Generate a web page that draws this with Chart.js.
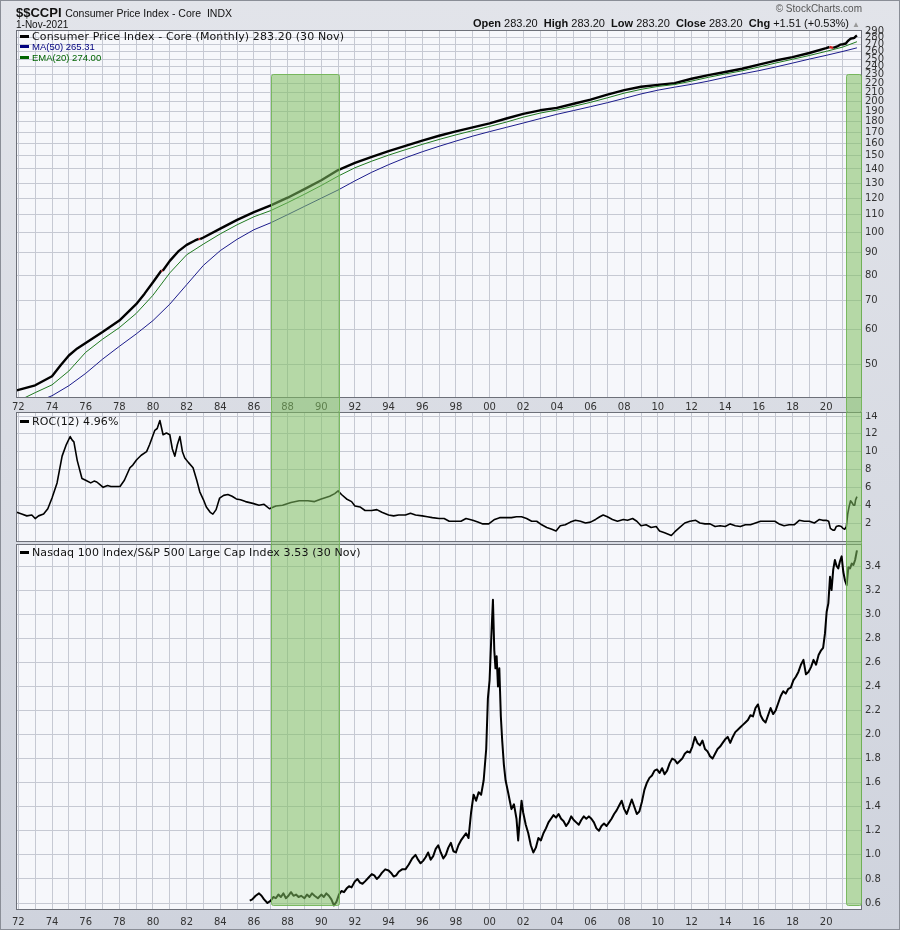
<!DOCTYPE html>
<html>
<head>
<meta charset="utf-8">
<script src="https://cdn.jsdelivr.net/npm/chart.js@4.4.1/dist/chart.umd.min.js"></script>
<style>
  html, body { margin: 0; padding: 0; }
  body {
    width: 900px; height: 930px; position: relative; overflow: hidden;
    background: linear-gradient(#e2e4ea, #cfd3dd);
    font-family: "DejaVu Sans", sans-serif; color: #111;
  }
  #frame { position: absolute; left: 0; top: 0; width: 900px; height: 930px; box-sizing: border-box; border: 1px solid #8a8e97; pointer-events: none; }
  canvas { position: absolute; left: 0; }
  .t { position: absolute; white-space: nowrap; line-height: 1; }
  .lg { font: 11px 'DejaVu Sans'; letter-spacing: 0.12px; }
  .mk { display: inline-block; width: 9px; height: 3px; vertical-align: middle; margin-right: 3px; position: relative; top: -1px; }
</style>
</head>
<body>
<canvas id="cpiChart" width="900" height="412" style="top:0"></canvas>
<canvas id="rocChart" width="900" height="130" style="top:412px"></canvas>
<canvas id="ratioChart" width="900" height="388" style="top:542px"></canvas>

<div class="t" style="left:16px;top:5px;font:bold 13px 'Liberation Sans';">$$CCPI <span style="font:10.5px 'Liberation Sans';">Consumer Price Index - Core&nbsp; INDX</span></div>
<div class="t" style="left:16px;top:19px;font:10px 'Liberation Sans';">1-Nov-2021</div>
<div class="t" style="right:38px;top:3px;font:10px 'Liberation Sans';color:#555;">© StockCharts.com</div>
<div class="t" style="right:40px;top:17px;font:11px 'Liberation Sans';"><b>Open</b> 283.20&nbsp; <b>High</b> 283.20&nbsp; <b>Low</b> 283.20&nbsp; <b>Close</b> 283.20&nbsp; <b>Chg</b> +1.51 (+0.53%) <span style="color:#999;font-size:8px;">▲</span></div>

<div class="t lg" style="left:20px;top:30px;"><span class="mk" style="background:#000"></span>Consumer Price Index - Core (Monthly) 283.20 (30 Nov)</div>
<div class="t" style="left:20px;top:41px;font:9.5px 'Liberation Sans';color:#000080;"><span class="mk" style="background:#000080"></span>MA(50) 265.31</div>
<div class="t" style="left:20px;top:52px;font:9.5px 'Liberation Sans';color:#006400;"><span class="mk" style="background:#006400"></span>EMA(20) 274.00</div>
<div class="t lg" style="left:20px;top:415px;"><span class="mk" style="background:#000"></span>ROC(12) 4.96%</div>
<div class="t lg" style="left:20px;top:546px;"><span class="mk" style="background:#000"></span>Nasdaq 100 Index/S&amp;P 500 Large Cap Index 3.53 (30 Nov)</div>
<div id="frame"></div>

<script>
// --- data (x = decimal year) ---
const cpiDates = [1971.9, 1973, 1974, 1974.5, 1975, 1975.5, 1976, 1977, 1978, 1979, 1979.5, 1980, 1980.5, 1980.58, 1981, 1981.5, 1982, 1982.5,
  1982.72, 1982.8, 1983, 1984, 1985, 1986, 1987, 1988, 1989, 1990, 1991, 1992, 1993, 1994, 1995, 1996, 1997, 1998, 1999, 2000, 2001,
  2002, 2003, 2004, 2005, 2006, 2007, 2008, 2009, 2010, 2011, 2012, 2013, 2014, 2015, 2016, 2017, 2018, 2019, 2020, 2020.2, 2020.42,
  2020.7, 2020.83, 2021, 2021.17, 2021.25, 2021.33, 2021.42, 2021.5, 2021.58, 2021.67, 2021.75, 2021.83];
const cpiValues = [43.5, 44.7, 46.9, 49.6, 52.3, 54.3, 55.9, 59.2, 62.9, 68.6, 72.5, 77.0, 81.9, 81.8, 86.2, 90.6, 93.8, 96.0,
  96.8, 96.7, 97.5, 102.2, 107.0, 111.5, 115.5, 120.3, 125.9, 131.9, 139.2, 144.5, 149.3, 153.9, 158.2, 162.6, 166.8, 170.7, 174.4, 178.1, 182.7,
  187.3, 190.8, 193.2, 197.5, 201.8, 207.2, 212.2, 216.0, 218.2, 220.2, 225.4, 229.8, 233.6, 237.6, 242.8, 248.1, 252.6, 258.2, 265.0, 266.5, 265.2,
  267.8, 269.8, 270.4, 271.5, 273.9, 276.0, 277.8, 278.9, 279.0, 279.6, 281.7, 283.2];

const avgDates = [1971.9, 1973, 1974, 1975, 1976, 1977, 1978, 1979, 1980, 1981, 1982, 1983, 1984, 1985, 1986, 1987, 1988, 1989, 1990,
  1991, 1992, 1993, 1994, 1995, 1996, 1997, 1998, 1999, 2000, 2001, 2002, 2003, 2004, 2005, 2006, 2007, 2008, 2009, 2010, 2011,
  2012, 2013, 2014, 2015, 2016, 2017, 2018, 2019, 2020, 2021, 2021.83];
const ma50Values = [39.4, 40.8, 42.3, 44.6, 47.6, 51.3, 54.9, 58.6, 62.9, 68.6, 76.0, 84.2, 91.0, 96.6, 101.6, 105.4, 110.0, 114.9, 120.0,
  125.3, 131.5, 137.6, 143.2, 148.5, 153.3, 157.8, 162.2, 166.5, 170.5, 174.4, 178.4, 182.6, 186.8, 190.6, 194.5, 198.6, 203.2, 208.0, 212.2, 215.6,
  218.8, 222.6, 227.0, 231.2, 235.2, 239.8, 244.8, 250.0, 255.0, 260.4, 265.31];
const ema20Values = [41.0, 43.0, 44.8, 48.2, 53.2, 57.0, 60.6, 65.3, 71.9, 80.9, 89.0, 94.2, 99.4, 104.3, 108.8, 112.4, 117.2, 122.5, 128.3,
  134.8, 140.9, 145.9, 150.6, 155.0, 159.4, 163.6, 167.6, 171.4, 175.2, 179.3, 184.0, 188.0, 191.1, 194.9, 199.0, 203.8, 208.9, 213.1, 216.4, 218.6,
  222.6, 227.1, 231.1, 235.0, 239.7, 244.9, 249.8, 254.8, 260.4, 266.5, 274.0];

const rocDates = [1971.9, 1972.2, 1972.5, 1972.8, 1973, 1973.2, 1973.5, 1973.75, 1974, 1974.3, 1974.6, 1974.85, 1975.08, 1975.2, 1975.3, 1975.5,
  1975.78, 1976, 1976.3, 1976.5, 1976.66, 1976.85, 1977.04, 1977.3, 1977.5, 1977.8, 1978.04, 1978.3, 1978.63, 1978.8, 1979.03, 1979.3, 1979.62,
  1979.8, 1980.11, 1980.25, 1980.41, 1980.6, 1980.8, 1981, 1981.15, 1981.3, 1981.45, 1981.6, 1981.75, 1981.89, 1982.1, 1982.38, 1982.6, 1982.78,
  1983, 1983.17, 1983.4, 1983.56, 1983.75, 1983.96, 1984.2, 1984.45, 1984.7, 1984.95, 1985.2, 1985.5, 1985.93, 1986.3, 1986.6, 1986.92,
  1987.3, 1987.7, 1988.2, 1988.69, 1989.2, 1989.6, 1990, 1990.5, 1990.8, 1991, 1991.2, 1991.5, 1991.8, 1992, 1992.3, 1992.6, 1993, 1993.3,
  1993.6, 1994, 1994.3, 1994.6, 1995, 1995.3, 1995.6, 1996, 1996.3, 1996.6, 1997, 1997.3, 1997.6, 1998, 1998.3, 1998.6, 1999, 1999.3, 1999.6,
  1999.95, 2000.3, 2000.6, 2001, 2001.3, 2001.6, 2001.9, 2002.2, 2002.5, 2002.8, 2003.1, 2003.4, 2003.7, 2003.95, 2004.2, 2004.5, 2004.8,
  2005.1, 2005.4, 2005.7, 2006, 2006.3, 2006.55, 2006.75, 2007, 2007.3, 2007.6, 2007.95, 2008.2, 2008.5, 2008.75, 2009, 2009.3, 2009.6,
  2009.9, 2010.1, 2010.4, 2010.8, 2011, 2011.3, 2011.6, 2011.9, 2012.25, 2012.5, 2012.8, 2013.1, 2013.4, 2013.7, 2014, 2014.3, 2014.6,
  2014.9, 2015.2, 2015.5, 2015.8, 2016.1, 2016.4, 2016.7, 2016.95, 2017.2, 2017.5, 2017.8, 2018.1, 2018.4, 2018.7, 2019, 2019.3, 2019.6,
  2019.8, 2020, 2020.15, 2020.25, 2020.4, 2020.5, 2020.6, 2020.75, 2020.9, 2021, 2021.1, 2021.2, 2021.28, 2021.36, 2021.45, 2021.53,
  2021.62, 2021.7, 2021.75, 2021.83];
const rocValues = [3.2, 3.0, 2.8, 2.9, 2.5, 2.8, 3.0, 3.6, 4.8, 6.5, 9.5, 10.8, 11.7, 11.3, 11.1, 9.0,
  7.0, 6.8, 6.5, 6.7, 6.6, 6.3, 6.0, 6.2, 6.1, 6.1, 6.1, 6.8, 8.2, 8.5, 9.1, 9.6, 10.0,
  10.8, 12.4, 12.6, 13.5, 11.9, 12.1, 11.9, 10.3, 9.5, 10.8, 11.7, 10.0, 9.3, 8.8, 8.2, 6.8, 5.5,
  4.6, 3.8, 3.2, 3.0, 3.5, 4.8, 5.1, 5.2, 5.0, 4.7, 4.6, 4.4, 4.2, 4.0, 4.1, 3.6,
  3.9, 4.0, 4.3, 4.5, 4.5, 4.4, 4.7, 5.0, 5.3, 5.6, 5.2, 4.7, 4.4, 3.9, 3.8, 3.4, 3.4, 3.5,
  3.2, 2.9, 2.8, 2.9, 2.9, 3.1, 2.9, 2.8, 2.7, 2.6, 2.5, 2.5, 2.2, 2.2, 2.2, 2.5, 2.3, 2.1, 1.9,
  1.9, 2.4, 2.6, 2.6, 2.6, 2.7, 2.7, 2.5, 2.2, 2.2, 1.8, 1.5, 1.3, 1.1, 1.7, 1.8, 2.1,
  2.3, 2.2, 2.0, 2.1, 2.4, 2.7, 2.9, 2.7, 2.4, 2.2, 2.4, 2.3, 2.5, 2.2, 1.7, 1.8, 1.5,
  1.6, 1.1, 0.9, 0.6, 1.0, 1.5, 2.0, 2.2, 2.3, 2.0, 1.9, 1.9, 1.6, 1.7, 1.6, 1.9, 1.7,
  1.6, 1.8, 1.8, 2.0, 2.2, 2.2, 2.2, 2.2, 1.9, 1.7, 1.8, 1.8, 2.3, 2.2, 2.2, 2.0, 2.4,
  2.3, 2.3, 2.2, 1.4, 1.2, 1.2, 1.6, 1.7, 1.6, 1.4, 1.3, 1.6, 3.0, 3.8, 4.5, 4.3,
  4.0, 4.0, 4.6, 4.96];

const ratioDates = [1985.75, 1985.9, 1986.1, 1986.3, 1986.45, 1986.6, 1986.8, 1987, 1987.15, 1987.3, 1987.45, 1987.6, 1987.75, 1987.9,
  1988.05, 1988.2, 1988.35, 1988.5, 1988.65, 1988.8, 1989, 1989.15, 1989.3, 1989.45, 1989.6, 1989.8, 1990, 1990.15, 1990.3, 1990.45,
  1990.6, 1990.75, 1990.9, 1991.05, 1991.2, 1991.35, 1991.5, 1991.65, 1991.8, 1992, 1992.15, 1992.3, 1992.45, 1992.6, 1992.8, 1993,
  1993.15, 1993.3, 1993.45, 1993.6, 1993.8, 1994, 1994.15, 1994.3, 1994.45, 1994.6, 1994.8, 1995, 1995.2, 1995.4, 1995.6, 1995.75,
  1995.9, 1996.05, 1996.2, 1996.35, 1996.5, 1996.65, 1996.8, 1996.95, 1997.1, 1997.25, 1997.4, 1997.55, 1997.7, 1997.85, 1998,
  1998.15, 1998.3, 1998.45, 1998.6, 1998.75, 1998.9, 1999.05, 1999.2, 1999.35, 1999.5, 1999.65, 1999.8, 1999.9, 2000, 2000.1,
  2000.2, 2000.28, 2000.35, 2000.42, 2000.5, 2000.58, 2000.67, 2000.75, 2000.85, 2000.95, 2001.1, 2001.2, 2001.3, 2001.45, 2001.6,
  2001.7, 2001.8, 2001.9, 2002, 2002.15, 2002.3, 2002.45, 2002.6, 2002.75, 2002.9, 2003.05, 2003.2, 2003.35, 2003.5, 2003.65,
  2003.8, 2003.95, 2004.1, 2004.25, 2004.4, 2004.55, 2004.7, 2004.85, 2005, 2005.15, 2005.3, 2005.45, 2005.6, 2005.75, 2005.9,
  2006.05, 2006.2, 2006.35, 2006.5, 2006.65, 2006.8, 2006.95, 2007.1, 2007.25, 2007.4, 2007.55, 2007.7, 2007.85, 2008, 2008.15,
  2008.3, 2008.45, 2008.6, 2008.75, 2008.9, 2009.05, 2009.2, 2009.35, 2009.5, 2009.65, 2009.8, 2009.95, 2010.1, 2010.25, 2010.4,
  2010.55, 2010.7, 2010.85, 2011, 2011.15, 2011.3, 2011.45, 2011.6, 2011.75, 2011.9, 2012.05, 2012.2, 2012.35, 2012.5, 2012.65,
  2012.8, 2012.95, 2013.1, 2013.25, 2013.4, 2013.55, 2013.7, 2013.85, 2014, 2014.15, 2014.3, 2014.45, 2014.6, 2014.75, 2014.9,
  2015.05, 2015.2, 2015.35, 2015.5, 2015.65, 2015.8, 2015.95, 2016.1, 2016.25, 2016.4, 2016.55, 2016.7, 2016.85, 2017, 2017.15,
  2017.3, 2017.45, 2017.6, 2017.75, 2017.9, 2018.05, 2018.2, 2018.35, 2018.5, 2018.65, 2018.8, 2018.95, 2019.1, 2019.25, 2019.4,
  2019.55, 2019.7, 2019.82, 2019.93, 2020.03, 2020.13, 2020.23, 2020.32, 2020.42, 2020.52, 2020.62, 2020.72, 2020.82, 2020.92,
  2021.02, 2021.12, 2021.22, 2021.32, 2021.42, 2021.52, 2021.62, 2021.72, 2021.83];
const ratioValues = [0.62, 0.63, 0.66, 0.68, 0.66, 0.63, 0.60, 0.62, 0.65, 0.64, 0.67, 0.65, 0.68, 0.64,
  0.66, 0.69, 0.66, 0.67, 0.65, 0.66, 0.64, 0.67, 0.65, 0.68, 0.66, 0.64, 0.67, 0.65, 0.68, 0.66,
  0.63, 0.58, 0.61, 0.67, 0.70, 0.69, 0.72, 0.74, 0.73, 0.78, 0.80, 0.77, 0.76, 0.78, 0.81, 0.84,
  0.83, 0.80, 0.82, 0.85, 0.88, 0.87, 0.85, 0.82, 0.83, 0.86, 0.88, 0.88, 0.92, 0.97, 1.00, 0.96,
  0.93, 0.95, 0.98, 1.02, 0.96, 0.99, 1.05, 1.08, 1.02, 0.97, 1.00, 1.06, 1.10, 1.03, 1.02,
  1.08, 1.12, 1.15, 1.18, 1.14, 1.35, 1.50, 1.45, 1.52, 1.50, 1.62, 1.88, 2.30, 2.45, 2.80,
  3.12, 2.70, 2.55, 2.65, 2.40, 2.55, 2.15, 1.95, 1.75, 1.62, 1.52, 1.45, 1.38, 1.42, 1.30,
  1.12, 1.30, 1.45, 1.35, 1.25, 1.18, 1.08, 1.02, 1.06, 1.14, 1.12, 1.18, 1.22, 1.27, 1.30,
  1.33, 1.31, 1.34, 1.30, 1.28, 1.24, 1.27, 1.32, 1.29, 1.27, 1.25, 1.29, 1.32, 1.30, 1.32,
  1.30, 1.27, 1.22, 1.20, 1.24, 1.26, 1.24, 1.27, 1.30, 1.34, 1.37, 1.41, 1.45, 1.38, 1.34,
  1.40, 1.46, 1.40, 1.34, 1.36, 1.44, 1.54, 1.60, 1.64, 1.66, 1.70, 1.71, 1.68, 1.72, 1.67,
  1.70, 1.76, 1.80, 1.79, 1.76, 1.78, 1.80, 1.84, 1.86, 1.85, 1.90, 1.98, 1.93, 1.91, 1.95,
  1.88, 1.86, 1.82, 1.80, 1.84, 1.88, 1.90, 1.93, 1.96, 1.98, 1.93, 1.98, 2.02, 2.04, 2.06,
  2.08, 2.10, 2.12, 2.16, 2.15, 2.22, 2.25, 2.16, 2.12, 2.10, 2.16, 2.22, 2.17, 2.20, 2.26,
  2.32, 2.36, 2.34, 2.38, 2.39, 2.45, 2.48, 2.52, 2.58, 2.62, 2.50, 2.52, 2.56, 2.62, 2.58,
  2.66, 2.70, 2.72, 2.84, 3.02, 3.09, 3.31, 3.20, 3.37, 3.45, 3.40, 3.38, 3.44, 3.48,
  3.35, 3.28, 3.24, 3.39, 3.38, 3.42, 3.41, 3.45, 3.53];

const cpiTicks = [50, 60, 70, 80, 90, 100, 110, 120, 130, 140, 150, 160, 170, 180, 190, 200, 210, 220, 230, 240, 250, 260, 270, 280, 290];
const rocTicks = [2, 4, 6, 8, 10, 12, 14];
const ratioTicks = [0.6, 0.8, 1.0, 1.2, 1.4, 1.6, 1.8, 2.0, 2.2, 2.4, 2.6, 2.8, 3.0, 3.2, 3.4];
const yearTicks = Array.from({ length: 50 }, (_, i) => 1972 + i);
const bands = [[1987.03, 1991.07], [2021.16, 2022.07]];

const pts = (xs, ys) => xs.map((x, i) => ({ x, y: ys[i] }));

const gridColor = '#c6c9d3';
const labelFont = { family: 'DejaVu Sans', size: 10 };

// plot background, frame, zero line and the green highlight bands
const panelPlugin = {
  id: 'panel',
  beforeDraw(chart) {
    const { ctx, chartArea: a } = chart;
    ctx.save();
    ctx.fillStyle = '#f6f7fb';
    ctx.fillRect(a.left, a.top, a.right - a.left, a.bottom - a.top);
    ctx.restore();
  },
  afterDraw(chart, args, opts) {
    const { ctx, chartArea: a } = chart;
    const x = chart.scales.x;
    ctx.save();
    if (opts.zeroLine) {
      const y0 = Math.round(chart.scales.y.getPixelForValue(0)) + 0.5;
      ctx.strokeStyle = '#777';
      ctx.setLineDash([6, 2, 1, 2]);
      ctx.beginPath();
      ctx.moveTo(a.left, y0);
      ctx.lineTo(a.right, y0);
      ctx.stroke();
      ctx.setLineDash([]);
    }
    ctx.strokeStyle = '#6d7079';
    ctx.lineWidth = 1;
    ctx.strokeRect(a.left + 0.5, a.top + 0.5, a.right - a.left - 1, a.bottom - a.top - 1);
    for (const b of bands) {
      const x0 = Math.round(x.getPixelForValue(b[0]));
      const x1 = Math.round(x.getPixelForValue(b[1]));
      ctx.fillStyle = 'rgba(128,192,97,0.55)';
      ctx.strokeStyle = 'rgba(112,180,84,0.9)';
      ctx.beginPath();
      ctx.roundRect(x0 + 0.5, opts.bandTop + 0.5, x1 - x0, opts.bandBottom - opts.bandTop, 2);
      ctx.fill();
      ctx.stroke();
    }
    ctx.restore();
  }
};

// fixed axis boxes, no automatic label padding
const fixBox = (w, h) => (s) => {
  if (w !== null) s.width = w;
  if (h !== null) s.height = h;
  s.paddingTop = 0; s.paddingBottom = 0; s.paddingLeft = 0; s.paddingRight = 0;
};

function xScale(showLabels, height, pad) {
  return {
    type: 'linear', min: 1971.86, max: 2022.13,
    grid: { color: gridColor, drawTicks: false },
    border: { display: false },
    afterBuildTicks: (s) => { s.ticks = yearTicks.map((v) => ({ value: v })); },
    afterFit: fixBox(null, height),
    ticks: {
      display: showLabels, padding: pad, autoSkip: false, maxRotation: 0,
      color: '#333', font: labelFont,
      callback: (v) => (v % 2 === 0 ? String(v).slice(-2) : '')
    }
  };
}

function yScale(extra, tickList, fmt) {
  return Object.assign({
    position: 'right',
    grid: { color: gridColor, drawTicks: false },
    border: { display: false },
    afterBuildTicks: (s) => { s.ticks = tickList.map((v) => ({ value: v })); },
    afterFit: fixBox(38, null),
    ticks: { padding: 3, autoSkip: false, color: '#333', font: labelFont, callback: fmt }
  }, extra);
}

const common = {
  responsive: false,
  animation: false,
  devicePixelRatio: 1,
  events: [],
  elements: { point: { radius: 0 }, line: { tension: 0, borderJoinStyle: 'round' } },
};

// down months of the index are drawn red
const downRed = { borderColor: (c) => (c.p1.parsed.y < c.p0.parsed.y ? '#d02020' : undefined) };

new Chart(document.getElementById('cpiChart'), {
  type: 'line',
  data: {
    datasets: [
      { data: pts(avgDates, ma50Values), borderColor: '#1c1c8c', borderWidth: 1 },
      { data: pts(avgDates, ema20Values), borderColor: '#1f7a1f', borderWidth: 1 },
      { data: pts(cpiDates, cpiValues), borderColor: '#000', borderWidth: 2.4, segment: downRed }
    ]
  },
  options: Object.assign({}, common, {
    layout: { padding: { left: 16, top: 30, right: 0, bottom: 0 } },
    plugins: { legend: { display: false }, tooltip: { enabled: false }, panel: { bandTop: 74, bandBottom: 412 } },
    scales: {
      x: xScale(true, 14, 3),
      y: yScale({ type: 'logarithmic', min: 41.8, max: 291.5 }, cpiTicks, (v) => String(v))
    }
  }),
  plugins: [panelPlugin]
});

new Chart(document.getElementById('rocChart'), {
  type: 'line',
  data: { datasets: [{ data: pts(rocDates, rocValues), borderColor: '#000', borderWidth: 1.6 }] },
  options: Object.assign({}, common, {
    layout: { padding: { left: 16, top: 0, right: 0, bottom: 0 } },
    plugins: { legend: { display: false }, tooltip: { enabled: false }, panel: { bandTop: -2, bandBottom: 132, zeroLine: true } },
    scales: {
      x: xScale(false, 0, 0),
      y: yScale({ type: 'linear', min: -0.13, max: 14.45 }, rocTicks, (v) => String(v))
    }
  }),
  plugins: [panelPlugin]
});

new Chart(document.getElementById('ratioChart'), {
  type: 'line',
  data: { datasets: [{ data: pts(ratioDates, ratioValues), borderColor: '#000', borderWidth: 2 }] },
  options: Object.assign({}, common, {
    layout: { padding: { left: 16, top: 2, right: 0, bottom: 0 } },
    plugins: { legend: { display: false }, tooltip: { enabled: false }, panel: { bandTop: -2, bandBottom: 363 } },
    scales: {
      x: xScale(true, 20, 6),
      y: yScale({ type: 'linear', min: 0.542, max: 3.583 }, ratioTicks, (v) => v.toFixed(1))
    }
  }),
  plugins: [panelPlugin]
});
</script>
</body>
</html>
